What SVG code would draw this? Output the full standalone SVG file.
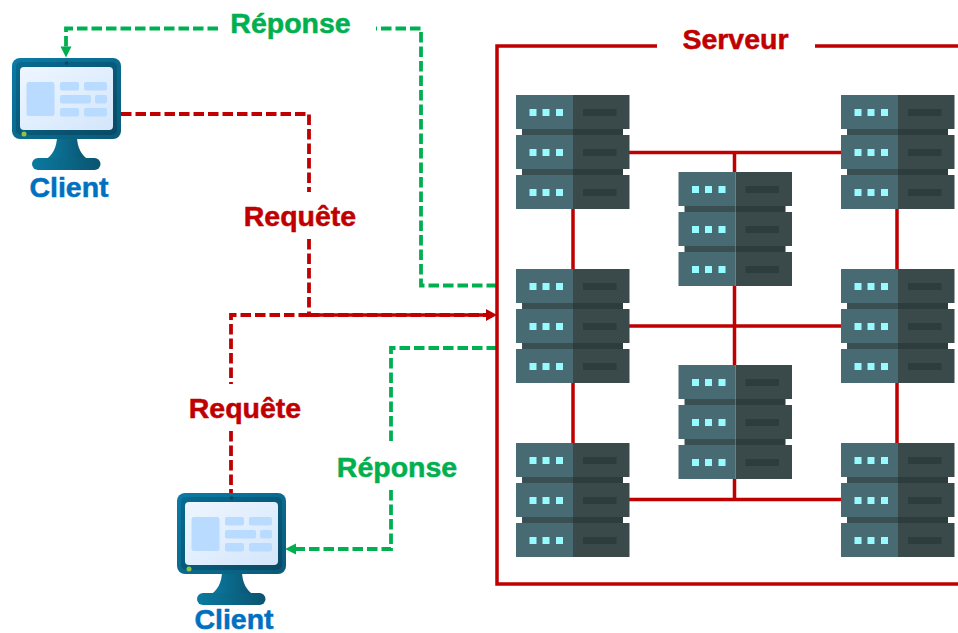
<svg xmlns="http://www.w3.org/2000/svg" width="958" height="633" viewBox="0 0 958 633">
<style>
text{font-family:"Liberation Sans",Arial,sans-serif;font-weight:700;font-size:28.500px;text-anchor:middle;stroke-width:0.500px}
.red{fill:#c00000;stroke:#c00000}.green{fill:#00b050;stroke:#00b050}.blue{fill:#0070c0;stroke:#0070c0}
.sol{fill:none;stroke:#c00000;stroke-width:3.500}
.dr{fill:none;stroke:#c00000;stroke-width:3.800;stroke-dasharray:10.500 4}
.dg{fill:none;stroke:#00b050;stroke-width:3.800;stroke-dasharray:10.500 4}
.lt{fill:#486a72}.dk{fill:#3a4a4a}.cn{fill:#2d3c3c}.cl{fill:#3a4f52}.dot{fill:#96fbff}
.pn{fill:#b8dbff}
</style>
<defs>
<linearGradient id="fr" x1="0" y1="0" x2="1" y2="1"><stop offset="0" stop-color="#0a7ba6"/><stop offset="1" stop-color="#0a5a78"/></linearGradient>
<linearGradient id="in" x1="0" y1="0" x2="1" y2="1"><stop offset="0" stop-color="#086a90"/><stop offset="1" stop-color="#094a64"/></linearGradient>
<linearGradient id="sc" x1="0" y1="0" x2="1" y2="1"><stop offset="0" stop-color="#eef6ff"/><stop offset="1" stop-color="#d4e6fb"/></linearGradient>
<linearGradient id="st" x1="0" y1="0" x2="1" y2="0"><stop offset="0" stop-color="#0b7aa0"/><stop offset="1" stop-color="#0a5470"/></linearGradient>
<symbol id="srv" overflow="visible">
<rect class="cl" x="6" y="34" width="51" height="6"/><rect class="cn" x="57" y="34" width="50" height="6"/>
<rect class="cl" x="6" y="74" width="51" height="6"/><rect class="cn" x="57" y="74" width="50" height="6"/>
<g id="u"><rect class="lt" x="0" y="0" width="57" height="34"/><rect class="dk" x="57" y="0" width="56.500" height="34"/>
<rect class="dot" x="13.500" y="14" width="7" height="7"/><rect class="dot" x="26.500" y="14" width="7" height="7"/><rect class="dot" x="40" y="14" width="7" height="7"/><rect class="cn" x="67" y="14" width="33.500" height="7"/></g>
<use href="#u" y="40"/><use href="#u" y="80"/>
</symbol>
<symbol id="mon" overflow="visible">
<path d="M45,78H65C65,90 70,98 77,102H33C40,98 45,90 45,78Z" fill="url(#st)"/>
<rect x="20" y="100" width="68.500" height="12" rx="6" fill="url(#st)"/>
<rect x="0" y="0" width="109" height="81" rx="8" fill="url(#fr)"/>
<rect x="4" y="4" width="101" height="73" rx="5" fill="url(#in)"/>
<circle cx="54.500" cy="5" r="1.800" fill="#0a4a62"/>
<rect x="8" y="9" width="93" height="63" rx="4" fill="url(#sc)"/>
<circle cx="12" cy="76" r="2.500" fill="#8cc63f"/>
<rect class="pn" x="14.500" y="24" width="28" height="34" rx="2.500"/>
<rect class="pn" x="48" y="24" width="19" height="8.500" rx="2"/><rect class="pn" x="72" y="24" width="23" height="8.500" rx="2"/>
<rect class="pn" x="48" y="37" width="31" height="8.500" rx="2"/><rect class="pn" x="83" y="37" width="12" height="8.500" rx="2"/>
<rect class="pn" x="48" y="50" width="19" height="8.500" rx="2"/><rect class="pn" x="72" y="50" width="23" height="8.500" rx="2"/>
</symbol>
</defs>
<g id="connectors">
<path class="sol" d="M629,152.500H841M734.500,152.500V172M573,209V269M897,209V269M629,326H841M734.500,286V365M573,383V443M897,383V443M629,499.500H841M734.500,479V499.500"/>
<path class="dg" d="M218,28.500H66V47"/><path d="M60.500,46.500L71.500,46.500L66,57.500Z" fill="#00b050"/>
<path class="dg" d="M497,285.500H421V28.500H376"/>
<path class="dr" d="M121,114H309V192"/>
<path class="dr" d="M309,239V315"/>
<path class="dr" d="M309,315H231V384"/>
<path class="sol" d="M309,315H487"/><path class="dr" d="M309,315H487"/><path d="M486,309L497,315L486,321Z" fill="#c00000"/>
<path class="dr" d="M231,431V493"/>
<path class="dg" d="M497,348H391V441"/>
<path class="dg" d="M391,490V549H295"/><path d="M296,543.500L296,554.500L285,549Z" fill="#00b050"/>
</g>
<g id="server-frame"><path class="sol" d="M657,46H497V584H958M815,46H958"/><text class="red" x="735.500" y="49">Serveur</text></g>
<g id="server-1"><use href="#srv" x="516" y="95"/></g>
<g id="server-2"><use href="#srv" x="841" y="95"/></g>
<g id="server-3"><use href="#srv" x="678.500" y="172"/></g>
<g id="server-4"><use href="#srv" x="516" y="269"/></g>
<g id="server-5"><use href="#srv" x="841" y="269"/></g>
<g id="server-6"><use href="#srv" x="678.500" y="365"/></g>
<g id="server-7"><use href="#srv" x="516" y="443"/></g>
<g id="server-8"><use href="#srv" x="841" y="443"/></g>
<g id="client-1"><use href="#mon" x="12" y="58"/><text class="blue" x="69" y="197">Client</text></g>
<g id="client-2"><use href="#mon" x="177" y="493"/><text class="blue" x="234" y="629">Client</text></g>
<g id="labels">
<text class="green" x="290.500" y="33">Réponse</text>
<text class="red" x="300" y="226">Requête</text>
<text class="red" x="245" y="418">Requête</text>
<text class="green" x="397" y="477">Réponse</text>
</g>
</svg>
